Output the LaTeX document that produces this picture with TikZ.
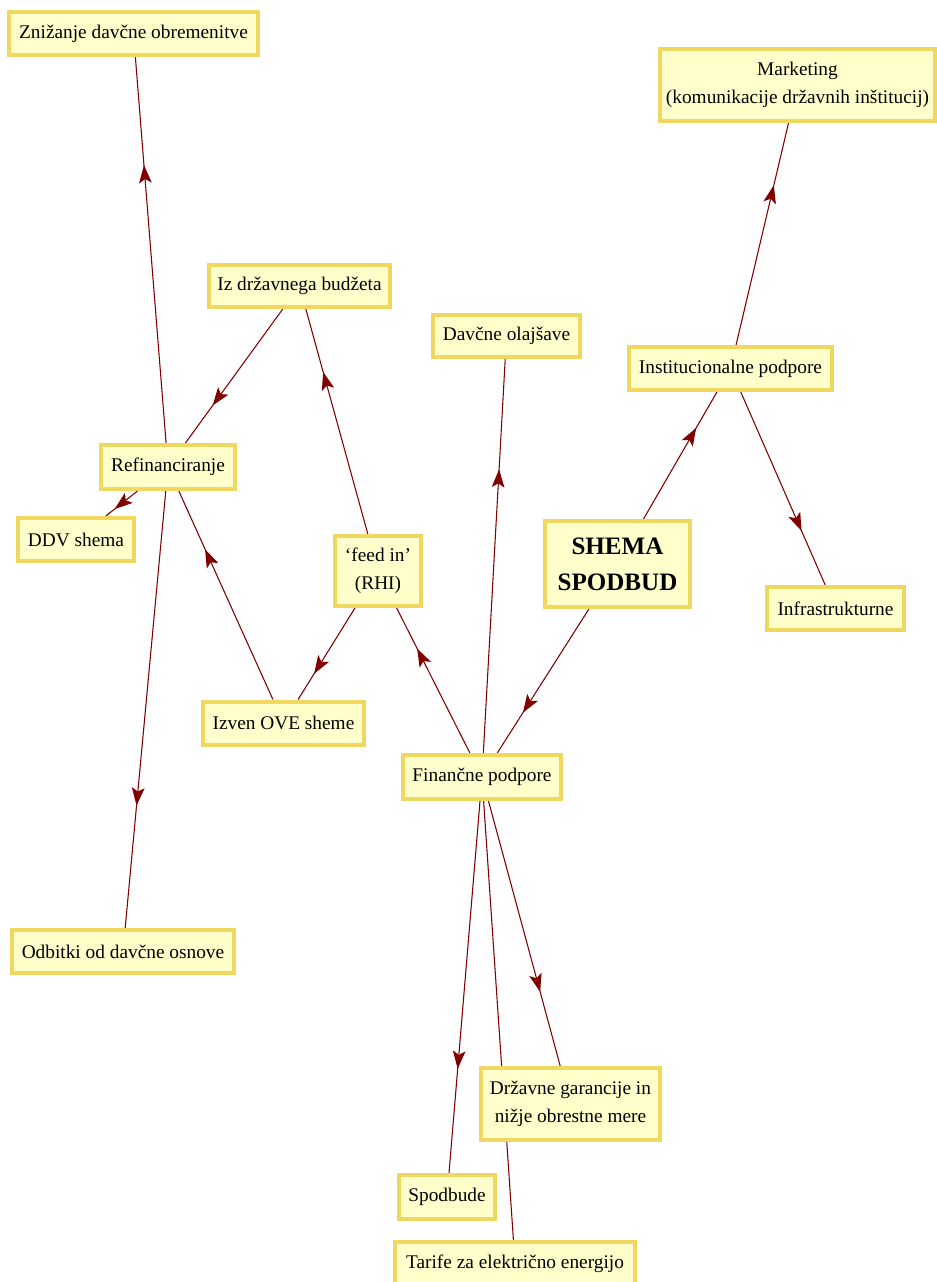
\documentclass[tikz,border=0pt]{standalone}
\usepackage{fontspec}
\setmainfont{Liberation Serif}
\usetikzlibrary{arrows.meta,decorations.markings,backgrounds}
\definecolor{boxfill}{RGB}{255,255,204}
\definecolor{boxline}{RGB}{240,216,96}
\definecolor{edgecol}{RGB}{128,0,0}
\begin{document}
\begin{tikzpicture}[x=0.75pt,y=-0.75pt,
  box/.style 2 args={draw=boxline, fill=boxfill, line width=3pt, inner sep=0pt,
    minimum width={(#1-4)*0.75pt}, minimum height={(#2-4)*0.75pt},
    align=center, font=\fontsize{14.5}{21.2}\selectfont},
  ed/.style={draw=edgecol, line width=0.8pt,
    postaction={decorate, decoration={markings,
      mark=at position 0.72 with {\arrow[edgecol]{Stealth[length=13.5pt,width=9.5pt,inset=3pt]}}}}}
]
\useasboundingbox (0,0) rectangle (937,1282);

\node[box={253}{47}] (zniz) at (133.5,33.5) {Znižanje davčne obremenitve};
\node[box={279}{76}] (mkt) at (797.5,85) {Marketing\\(komunikacije državnih inštitucij)};
\node[box={185}{46}] (iz) at (299.5,286) {Iz državnega budžeta};
\node[box={151}{46}] (dav) at (506.5,336) {Davčne olajšave};
\node[box={207}{47}] (inst) at (730.5,368.5) {Institucionalne podpore};
\node[box={138}{48}] (ref) at (168,467) {Refinanciranje};
\node[box={120}{47}] (ddv) at (76,539.5) {DDV shema};
\node[box={90}{74}] (feed) at (378,571) {‘feed in’\\(RHI)};
\node[box={149}{90}, font=\fontsize{18.8}{26.8}\selectfont\bfseries] (s) at (617.5,564) {SHEMA\\SPODBUD};
\node[box={141}{47}] (infra) at (835.5,608.5) {Infrastrukturne};
\node[box={165}{47}] (izven) at (283.5,723) {Izven OVE sheme};
\node[box={162}{48}] (fin) at (482,777) {Finančne podpore};
\node[box={226}{47}] (odb) at (123,951.5) {Odbitki od davčne osnove};
\node[box={183}{76}] (drz) at (570.5,1104) {Državne garancije in\\nižje obrestne mere};
\node[box={100}{48}] (spod) at (447,1197) {Spodbude};
\node[box={244}{47}] (tar) at (515,1263.5) {Tarife za električno energijo};

\begin{pgfonlayer}{background}
\draw[ed] (s) -- (inst);
\draw[ed] (s) -- (fin);
\draw[ed] (inst) -- (mkt);
\draw[ed] (inst) -- (infra);
\draw[ed] (fin) -- (dav);
\draw[ed] (fin) -- (feed);
\draw[ed] (fin) -- (spod);
\draw[ed] (fin) -- (drz);
\draw[ed] (fin) -- (tar);
\draw[ed] (feed) -- (iz);
\draw[ed] (feed) -- (izven);
\draw[ed] (iz) -- (ref);
\draw[ed] (izven) -- (ref);
\draw[ed] (ref) -- (zniz);
\draw[ed] (ref) -- (ddv);
\draw[ed] (ref) -- (odb);
\end{pgfonlayer}
\end{tikzpicture}
\end{document}
